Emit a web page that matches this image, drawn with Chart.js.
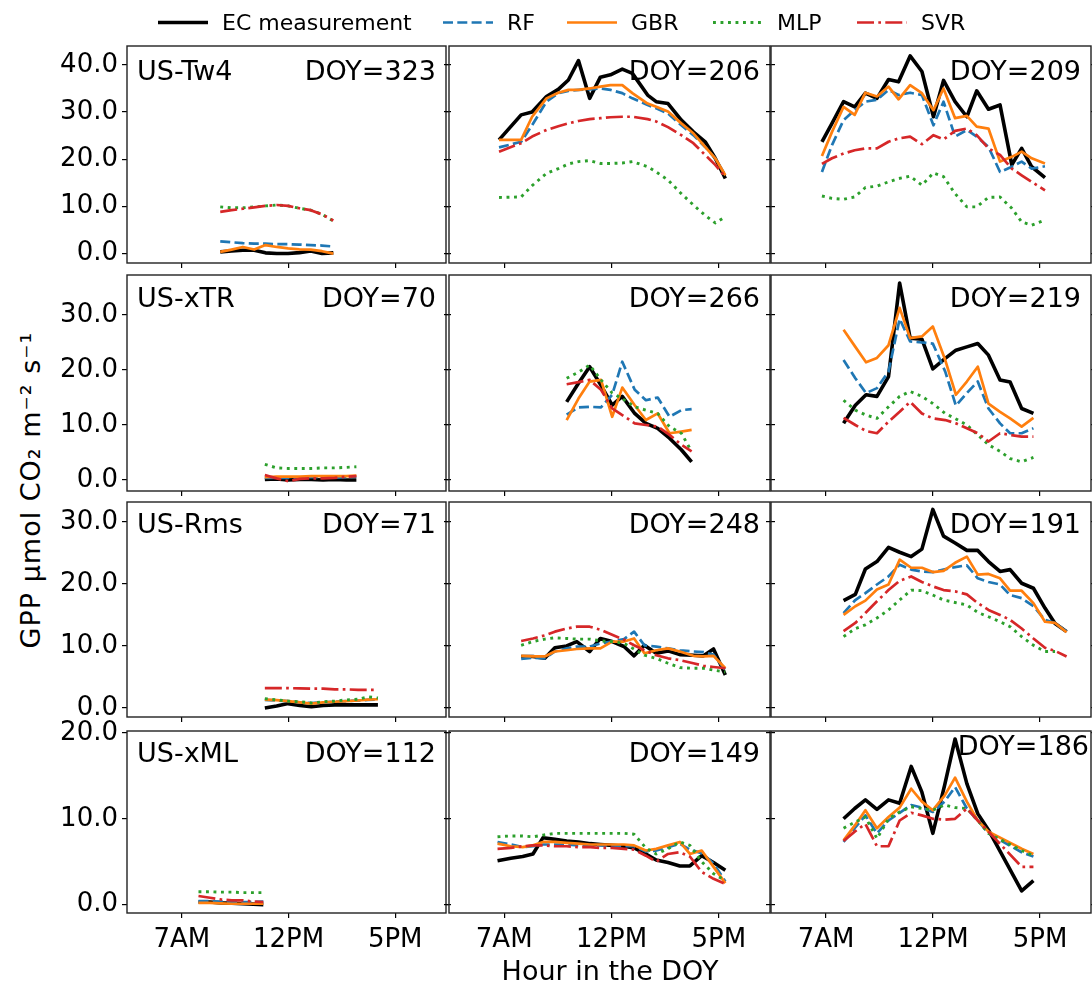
<!DOCTYPE html>
<html lang="en">
<head>
<meta charset="UTF-8">
<title>GPP diurnal comparison</title>
<script src="https://cdn.jsdelivr.net/npm/chart.js"></script>
<style>
    body {
        margin: 0;
        background: #fff;
        font-family: 'DejaVu Sans', sans-serif;
    }
    #fig {
        position: relative;
        width: 1092px;
        height: 982px;
        overflow: hidden;
        background: #fff;
    }
    #fig canvas {
        position: absolute;
    }
    .txt {
        position: absolute;
        color: #000;
        white-space: nowrap;
        line-height: 1;
    }
    .panelTxt {
        font-size: 27px;
        transform: translateY(-50%);
    }
    .legItem {
        position: absolute;
        top: 22px;
        transform: translateY(-50%);
        display: flex;
        align-items: center;
        font-size: 22px;
    }
    .legItem span {
        margin-left: 14px;
    }
</style>
</head>
<body>
<div id="fig"></div>

<script>
// ---- data (hours of day, GPP values) ----
// row 1
const h323 = [8.80, 9.33, 9.86, 10.39, 10.92, 11.45, 11.98, 12.51, 13.04, 13.57, 14.10];
const ec323 = [0.35, 0.55, 0.7, 0.7, 0.15, 0.0, 0.0, 0.2, 0.55, 0.0, 0.15];
const rf323 = [2.6, 2.4, 2.2, 2.1, 2.1, 2.0, 2.0, 1.9, 1.8, 1.7, 1.5];
const gbr323 = [0.35, 0.85, 1.4, 0.85, 1.8, 1.4, 1.1, 0.9, 0.85, 0.5, 0.0];
const mlp323 = [9.9, 9.7, 9.7, 9.9, 10.1, 10.3, 10.1, 9.6, 9.2, 8.3, 6.9];
const svr323 = [8.85, 9.2, 9.5, 9.8, 10.1, 10.3, 10.1, 9.6, 9.2, 8.3, 7.0];

const h206 = [6.76, 7.79, 8.30, 8.97, 9.52, 9.99, 10.46, 10.98, 11.48, 11.95, 12.50, 12.97, 13.68, 14.08, 14.63, 15.25, 15.81, 16.36, 16.83, 17.30];
const ec206 = [24.1, 29.4, 30.0, 33.3, 34.8, 36.8, 40.9, 32.9, 37.4, 37.9, 39.1, 38.2, 33.6, 32.2, 31.8, 28.3, 25.8, 23.7, 20.2, 15.9];
const rf206 = [22.5, 23.7, 27.2, 32.2, 34.0, 34.5, 34.7, 34.8, 35.0, 34.7, 34.0, 32.9, 31.5, 30.8, 29.7, 27.2, 25.1, 22.6, 20.2, 16.6];
const gbr206 = [24.1, 24.1, 29.0, 32.9, 34.1, 34.7, 34.7, 35.0, 35.4, 35.7, 35.7, 34.0, 31.8, 31.1, 30.1, 27.6, 25.5, 22.6, 20.2, 16.6];
const mlp206 = [11.9, 12.0, 14.4, 17.0, 18.0, 19.0, 19.5, 19.7, 19.1, 19.1, 19.2, 19.5, 18.4, 17.3, 15.6, 12.7, 10.3, 8.1, 6.5, 7.8];
const svr206 = [21.6, 23.4, 24.8, 26.2, 27.0, 27.6, 28.1, 28.5, 28.7, 28.9, 29.0, 29.0, 28.5, 28.0, 26.8, 25.1, 23.4, 20.9, 18.8, 16.3];

const h209 = [6.81, 7.28, 7.82, 8.34, 8.84, 9.38, 9.92, 10.39, 10.93, 11.48, 12.02, 12.49, 13.03, 13.58, 14.04, 14.59, 15.13, 15.68, 16.14, 16.61, 17.23];
const ec209 = [23.7, 27.6, 32.2, 31.1, 34.0, 32.9, 36.9, 36.4, 41.9, 38.6, 29.0, 36.7, 32.2, 29.0, 34.5, 30.6, 31.5, 18.8, 22.3, 18.4, 16.1];
const rf209 = [17.3, 23.0, 28.3, 30.4, 32.2, 32.6, 34.7, 33.6, 34.1, 33.6, 27.2, 32.2, 24.8, 26.2, 24.8, 22.6, 17.3, 18.4, 19.5, 18.0, 18.5];
const gbr209 = [20.7, 25.8, 31.1, 29.4, 34.1, 33.3, 35.4, 32.7, 35.7, 34.0, 30.4, 35.0, 28.7, 29.2, 26.9, 26.5, 19.5, 20.5, 21.6, 20.2, 19.1];
const mlp209 = [12.2, 11.7, 11.5, 12.0, 14.0, 14.3, 15.2, 15.9, 16.4, 14.5, 17.1, 16.3, 12.7, 9.9, 9.9, 11.9, 12.0, 9.6, 6.7, 6.0, 7.1];
const svr209 = [19.0, 20.2, 21.2, 21.9, 22.3, 22.3, 23.7, 24.4, 24.8, 23.2, 25.1, 24.2, 26.0, 26.5, 25.1, 22.3, 20.9, 18.0, 16.6, 15.2, 13.4];

// row 2
const h70 = [10.89, 11.44, 11.98, 12.53, 13.07, 13.62, 14.16, 14.71, 15.18];
const ec70 = [0.1, 0.2, 0.0, 0.1, 0.1, 0.0, 0.1, 0.0, 0.0];
const rf70 = [0.4, 0.4, 0.4, 0.5, 0.5, 0.5, 0.4, 0.5, 0.6];
const gbr70 = [0.5, 0.6, 0.6, 0.6, 0.7, 0.7, 0.7, 0.7, 0.8];
const mlp70 = [2.85, 2.2, 2.1, 2.1, 2.1, 2.2, 2.2, 2.3, 2.4];
const svr70 = [0.9, 0.3, -0.2, 0.2, 0.3, 0.3, 0.4, 0.6, 0.7];

const h266 = [9.91, 10.46, 10.98, 11.51, 12.03, 12.50, 13.08, 13.60, 14.15, 14.70, 15.25, 15.73];
const ec266 = [14.2, 17.6, 20.6, 17.2, 13.6, 15.2, 12.1, 10.3, 9.4, 7.6, 5.5, 3.3];
const rf266 = [11.9, 13.2, 13.3, 13.2, 15.5, 21.5, 16.4, 14.5, 15.0, 11.5, 12.7, 12.9];
const gbr266 = [10.9, 14.8, 17.9, 18.2, 11.5, 16.8, 13.6, 10.9, 12.1, 8.5, 8.8, 9.1];
const mlp266 = [18.5, 19.6, 20.9, 18.2, 15.8, 14.8, 13.3, 12.7, 12.1, 9.7, 8.5, 5.2];
const svr266 = [17.4, 17.8, 18.2, 16.4, 13.0, 11.8, 10.3, 10.0, 9.7, 8.2, 6.4, 5.2];

const h219 = [7.82, 8.37, 8.87, 9.38, 9.92, 10.44, 10.93, 11.48, 11.99, 12.57, 13.07, 13.58, 14.09, 14.59, 15.13, 15.60, 16.14, 16.69];
const ec219 = [10.3, 13.6, 15.5, 15.2, 18.8, 35.8, 25.8, 25.6, 20.2, 22.1, 23.6, 24.2, 24.8, 22.7, 18.2, 17.8, 13.0, 12.1];
const rf219 = [21.8, 18.5, 15.8, 16.7, 19.7, 29.3, 25.2, 25.0, 24.8, 19.7, 13.5, 15.8, 17.9, 13.0, 10.3, 8.5, 8.5, 9.4];
const gbr219 = [27.3, 24.2, 21.4, 22.2, 24.5, 31.3, 25.8, 26.1, 27.9, 21.8, 15.5, 17.9, 20.6, 13.9, 12.4, 11.2, 9.7, 11.3];
const mlp219 = [14.5, 12.7, 11.8, 11.2, 13.3, 15.2, 16.1, 15.2, 13.9, 12.1, 11.1, 10.0, 8.2, 6.4, 5.2, 3.9, 3.3, 4.1];
const svr219 = [11.3, 10.0, 8.9, 8.5, 10.6, 12.4, 14.2, 12.1, 11.2, 10.9, 10.3, 9.4, 8.5, 7.0, 8.5, 8.2, 7.9, 7.9];

// row 3
const h71 = [10.89, 11.44, 11.98, 12.53, 13.07, 13.62, 14.17, 14.71, 15.26, 15.72, 16.19];
const ec71 = [0.0, 0.3, 0.7, 0.4, 0.2, 0.4, 0.5, 0.5, 0.5, 0.5, 0.5];
const rf71 = [1.3, 1.2, 1.1, 0.9, 0.8, 0.9, 1.0, 1.1, 1.2, 1.3, 1.35];
const gbr71 = [1.35, 1.25, 1.1, 0.9, 0.7, 0.9, 1.0, 1.1, 1.2, 1.35, 1.4];
const mlp71 = [1.5, 1.3, 1.1, 1.0, 0.8, 1.0, 1.1, 1.3, 1.4, 1.8, 1.6];
const svr71 = [3.2, 3.2, 3.2, 3.15, 3.1, 3.1, 3.0, 3.0, 2.9, 2.9, 2.9];

const h248 = [7.79, 8.34, 8.89, 9.36, 9.91, 10.38, 10.98, 11.48, 12.03, 12.58, 13.05, 13.53, 14.08, 14.63, 15.18, 15.81, 16.28, 16.75, 17.30];
const ec248 = [8.3, 8.3, 8.0, 9.7, 10.0, 10.7, 9.1, 11.2, 10.7, 9.9, 8.4, 10.1, 8.8, 9.2, 8.6, 8.5, 8.4, 9.5, 5.3];
const rf248 = [7.9, 8.1, 8.0, 9.1, 9.6, 9.9, 9.9, 10.4, 10.7, 11.1, 12.3, 10.1, 9.9, 9.6, 9.3, 9.1, 9.0, 8.6, 6.1];
const gbr248 = [8.4, 8.3, 8.3, 9.1, 9.3, 9.5, 9.6, 9.6, 10.7, 10.7, 11.2, 8.8, 9.3, 9.6, 9.1, 8.4, 8.3, 8.4, 6.4];
const mlp248 = [10.1, 10.7, 11.1, 11.3, 11.2, 11.1, 11.1, 10.8, 10.7, 10.4, 9.5, 8.5, 8.0, 7.2, 6.5, 6.4, 6.4, 6.1, 5.8];
const svr248 = [10.8, 11.2, 11.7, 12.3, 12.8, 13.1, 13.1, 12.6, 11.8, 11.0, 10.1, 9.3, 8.5, 8.0, 7.7, 7.2, 6.8, 6.6, 6.4];

const h191 = [7.82, 8.37, 8.84, 9.38, 9.92, 10.44, 10.98, 11.48, 11.99, 12.49, 13.03, 13.58, 14.09, 14.59, 15.13, 15.60, 16.14, 16.69, 17.23, 17.70, 18.24];
const ec191 = [17.3, 18.3, 22.4, 23.6, 25.9, 25.1, 24.4, 25.6, 32.0, 27.7, 26.6, 25.4, 25.4, 23.6, 22.0, 22.3, 20.1, 19.3, 16.1, 13.6, 12.3];
const rf191 = [15.3, 17.4, 18.5, 19.9, 21.2, 23.1, 22.3, 22.0, 21.9, 22.3, 22.7, 23.0, 20.9, 20.3, 19.9, 18.2, 17.7, 16.4, 14.2, 13.7, 12.3];
const gbr191 = [15.0, 16.4, 17.3, 19.1, 19.9, 23.9, 22.6, 22.6, 21.9, 22.1, 23.4, 24.4, 21.5, 21.6, 20.9, 18.9, 18.9, 16.9, 13.9, 13.7, 12.2];
const mlp191 = [11.5, 12.8, 13.4, 14.5, 15.8, 17.4, 19.0, 18.9, 18.2, 17.4, 17.0, 16.6, 15.4, 14.7, 13.9, 13.1, 11.5, 10.1, 9.1, 9.1, null];
const svr191 = [12.4, 13.7, 15.3, 17.2, 19.0, 20.5, 21.2, 20.3, 19.6, 19.0, 18.8, 18.3, 16.9, 15.8, 15.0, 14.2, 12.8, 11.2, 9.7, 9.2, 8.3];

// row 4
const h112 = [7.78, 8.32, 8.82, 9.34, 9.85, 10.35, 10.82];
const ec112 = [0.3, 0.3, 0.2, 0.15, 0.1, 0.05, 0.0];
const rf112 = [0.4, 0.4, 0.35, 0.3, 0.3, 0.3, 0.35];
const gbr112 = [0.2, 0.2, 0.15, 0.1, 0.1, 0.1, 0.1];
const mlp112 = [1.5, 1.5, 1.45, 1.45, 1.4, 1.4, 1.4];
const svr112 = [1.0, 0.8, 0.6, 0.5, 0.5, 0.35, 0.3];

const h149 = [6.69, 7.31, 7.86, 8.34, 8.81, 9.36, 9.91, 10.46, 11.01, 11.48, 12.03, 12.58, 13.05, 13.60, 14.08, 14.63, 15.18, 15.65, 16.20, 16.75, 17.30];
const ec149 = [5.1, 5.4, 5.6, 5.9, 7.8, 7.6, 7.4, 7.3, 7.1, 7.0, 6.9, 6.8, 6.6, 5.9, 5.2, 4.9, 4.5, 4.5, 5.7, 4.9, 4.0];
const rf149 = [7.3, 7.0, 6.7, 6.8, 7.0, 7.0, 7.0, 6.9, 6.9, 6.9, 6.9, 6.8, 6.8, 6.2, 6.3, 6.7, 7.1, 6.4, 6.0, 4.8, 2.7];
const gbr149 = [7.1, 6.8, 6.7, 6.9, 7.3, 7.3, 7.2, 7.1, 7.0, 7.0, 7.0, 7.0, 6.9, 6.3, 6.5, 6.9, 7.3, 5.9, 6.3, 4.4, 2.5];
const mlp149 = [7.9, 8.0, 8.0, 7.9, 8.1, 8.3, 8.3, 8.3, 8.3, 8.3, 8.3, 8.3, 8.2, 6.6, 5.9, 6.5, 7.3, 6.9, 5.0, 3.6, 2.8];
const svr149 = [6.5, 6.6, 6.8, 6.9, 6.9, 6.8, 6.8, 6.7, 6.7, 6.6, 6.6, 6.5, 6.4, 5.7, 5.0, 5.9, 6.1, 5.6, 3.8, 3.0, 2.4];

const h186 = [7.82, 8.34, 8.84, 9.38, 9.92, 10.44, 10.98, 11.48, 11.99, 12.54, 13.03, 13.58, 14.09, 14.59, 16.14, 16.69];
const ec186 = [10.0, 11.2, 12.2, 11.1, 12.2, 11.8, 16.1, 13.1, 8.3, 13.9, 19.3, 14.1, 10.6, 8.7, 1.6, 2.8];
const rf186 = [7.3, 8.9, 10.4, 8.3, 9.8, 10.7, 11.6, 11.3, 10.8, 12.0, 13.7, 11.2, 9.8, 8.3, 6.1, 5.6];
const gbr186 = [7.5, 9.2, 11.0, 8.9, 10.2, 11.3, 13.5, 12.0, 11.0, 12.7, 14.8, 12.0, 9.8, 8.5, 6.5, 5.9];
const mlp186 = [8.9, 9.6, 10.2, 7.7, 10.0, 10.8, 11.4, 11.2, 11.0, 11.6, 11.3, 11.2, 9.8, 8.3, 6.3, 5.7];
const svr186 = [7.4, 8.5, 9.4, 6.8, 6.8, 9.8, 10.7, 10.4, 10.0, 9.9, 10.0, 11.2, 9.8, 8.5, 4.4, 4.4];

// axis ticks
const xTickHours = [7, 12, 17];
const xTickLabels = ['7AM', '12PM', '5PM'];
const xRange = [4.43, 19.38];
const rowYTicks = [[0, 10, 20, 30, 40], [0, 10, 20, 30], [0, 10, 20, 30], [0, 10, 20]];
const rowYRange = [[-2.0, 44.0], [-2.0, 37.27], [-1.46, 33.2], [-0.98, 20.23]];

// panels, row by row
const panels = [
    {site: 'US-Tw4', doy: 323, h: h323, ec: ec323, rf: rf323, gbr: gbr323, mlp: mlp323, svr: svr323},
    {site: '', doy: 206, h: h206, ec: ec206, rf: rf206, gbr: gbr206, mlp: mlp206, svr: svr206},
    {site: '', doy: 209, h: h209, ec: ec209, rf: rf209, gbr: gbr209, mlp: mlp209, svr: svr209},
    {site: 'US-xTR', doy: 70, h: h70, ec: ec70, rf: rf70, gbr: gbr70, mlp: mlp70, svr: svr70},
    {site: '', doy: 266, h: h266, ec: ec266, rf: rf266, gbr: gbr266, mlp: mlp266, svr: svr266},
    {site: '', doy: 219, h: h219, ec: ec219, rf: rf219, gbr: gbr219, mlp: mlp219, svr: svr219},
    {site: 'US-Rms', doy: 71, h: h71, ec: ec71, rf: rf71, gbr: gbr71, mlp: mlp71, svr: svr71},
    {site: '', doy: 248, h: h248, ec: ec248, rf: rf248, gbr: gbr248, mlp: mlp248, svr: svr248},
    {site: '', doy: 191, h: h191, ec: ec191, rf: rf191, gbr: gbr191, mlp: mlp191, svr: svr191},
    {site: 'US-xML', doy: 112, h: h112, ec: ec112, rf: rf112, gbr: gbr112, mlp: mlp112, svr: svr112},
    {site: '', doy: 149, h: h149, ec: ec149, rf: rf149, gbr: gbr149, mlp: mlp149, svr: svr149},
    {site: '', doy: 186, h: h186, ec: ec186, rf: rf186, gbr: gbr186, mlp: mlp186, svr: svr186}
];

// series look (matplotlib tab10 colours)
const seriesKeys = ['ec', 'rf', 'gbr', 'mlp', 'svr'];
const seriesStyle = {
    ec:  {label: 'EC measurement', color: '#000000', width: 3.6, dash: [], order: 5},
    rf:  {label: 'RF',  color: '#1f77b4', width: 2.7, dash: [10, 4.3], order: 4},
    gbr: {label: 'GBR', color: '#ff7f0e', width: 2.7, dash: [], order: 3},
    mlp: {label: 'MLP', color: '#2ca02c', width: 2.9, dash: [2.9, 4.6], order: 2},
    svr: {label: 'SVR', color: '#d62728', width: 2.7, dash: [17, 4.3, 2.7, 4.3], order: 1}
};

// figure geometry
const colLeft = [127, 449, 771];
const colRight = [446, 770, 1091];
const rowTop = [46, 275, 502, 731];
const rowBottom = [263, 491, 717, 913];
const rowTextOffset = [24, 22, 21, 21];
const padL = 80, padR = 12, padT = 24, padB = 62;
const FONT = "'DejaVu Sans', sans-serif";

const fig = document.getElementById('fig');

// plot frame (all four spines)
const framePlugin = {
    id: 'frame',
    afterDraw(chart) {
        const a = chart.chartArea;
        const ctx = chart.ctx;
        ctx.save();
        ctx.strokeStyle = '#222';
        ctx.lineWidth = 1.4;
        ctx.strokeRect(a.left, a.top, a.right - a.left, a.bottom - a.top);
        ctx.restore();
    }
};

function addText(text, cls, css) {
    const d = document.createElement('div');
    d.className = 'txt ' + cls;
    d.textContent = text;
    Object.assign(d.style, css);
    fig.appendChild(d);
    return d;
}

function buildPanel(p, row, col) {
    const w = colRight[col] - colLeft[col];
    const h = rowBottom[row] - rowTop[row];
    const cv = document.createElement('canvas');
    cv.width = w + padL + padR;
    cv.height = h + padT + padB;
    cv.style.left = (colLeft[col] - padL) + 'px';
    cv.style.top = (rowTop[row] - padT) + 'px';
    fig.appendChild(cv);

    const datasets = seriesKeys.map(k => {
        const s = seriesStyle[k];
        return {
            label: s.label,
            data: p.h.map((x, i) => ({x: x, y: p[k][i]})),
            borderColor: s.color,
            borderWidth: s.width,
            borderDash: s.dash,
            borderCapStyle: 'butt',
            borderJoinStyle: 'round',
            pointRadius: 0,
            tension: 0,
            fill: false,
            spanGaps: true,
            order: s.order
        };
    });

    const yTicks = rowYTicks[row];
    const tickGrid = {drawOnChartArea: false, drawTicks: true, tickLength: 5, color: '#000', lineWidth: 1.2};

    new Chart(cv.getContext('2d'), {
        type: 'line',
        data: {datasets: datasets},
        options: {
            responsive: false,
            animation: false,
            devicePixelRatio: 1,
            layout: {padding: {top: padT, left: 0, right: 0, bottom: 0}},
            plugins: {legend: {display: false}, tooltip: {enabled: false}},
            scales: {
                x: {
                    type: 'linear',
                    position: 'bottom',
                    min: xRange[0],
                    max: xRange[1],
                    afterBuildTicks: s => { s.ticks = xTickHours.map(v => ({value: v})); },
                    afterFit: s => { s.height = padB; },
                    grid: tickGrid,
                    border: {display: false},
                    ticks: {
                        display: row === 3,
                        autoSkip: false,
                        maxRotation: 0,
                        padding: 7,
                        color: '#000',
                        font: {family: FONT, size: 26},
                        callback: (v, i) => xTickLabels[i]
                    }
                },
                y: {
                    type: 'linear',
                    position: 'left',
                    min: rowYRange[row][0],
                    max: rowYRange[row][1],
                    afterBuildTicks: s => { s.ticks = yTicks.map(v => ({value: v})); },
                    afterFit: s => { s.width = padL; },
                    grid: tickGrid,
                    border: {display: false},
                    ticks: {
                        display: col === 0,
                        autoSkip: false,
                        padding: 4,
                        color: '#000',
                        font: {family: FONT, size: 26},
                        callback: v => Number(v).toFixed(1)
                    }
                },
                y2: {
                    type: 'linear',
                    position: 'right',
                    min: rowYRange[row][0],
                    max: rowYRange[row][1],
                    afterBuildTicks: s => { s.ticks = yTicks.map(v => ({value: v})); },
                    afterFit: s => { s.width = padR; },
                    grid: tickGrid,
                    border: {display: false},
                    ticks: {display: false}
                }
            }
        },
        plugins: [framePlugin]
    });

    // panel annotations
    let cy = rowTop[row] + rowTextOffset[row];
    let inset = 10;
    if (p.doy === 186) { cy = rowTop[row] + 14; inset = 2; }
    if (p.site) {
        addText(p.site, 'panelTxt', {left: (colLeft[col] + 10) + 'px', top: cy + 'px'});
    }
    addText('DOY=' + p.doy, 'panelTxt', {right: (1092 - colRight[col] + inset) + 'px', top: cy + 'px'});
}

panels.forEach((p, i) => buildPanel(p, Math.floor(i / 3), i % 3));

// shared axis titles
addText('GPP  µmol  CO\u2082  m\u207B\u00B2  s\u207B\u00B9', '', {
    left: '30px', top: '490px', fontSize: '27px', letterSpacing: '1px',
    transform: 'translate(-50%, -50%) rotate(-90deg)'
});
addText('Hour in the DOY', '', {
    left: '610px', top: '970px', fontSize: '27px',
    transform: 'translate(-50%, -50%)'
});

// legend across the top
const legendLeft = [158, 443, 567, 713, 857];
seriesKeys.forEach((k, i) => {
    const s = seriesStyle[k];
    const item = document.createElement('div');
    item.className = 'legItem';
    item.style.left = legendLeft[i] + 'px';
    const dash = s.dash.length ? s.dash.join(' ') : 'none';
    item.innerHTML =
        '<svg width="50" height="10"><line x1="0" y1="5" x2="50" y2="5" stroke="' + s.color +
        '" stroke-width="' + s.width + '" stroke-dasharray="' + dash + '"/></svg><span>' + s.label + '</span>';
    fig.appendChild(item);
});
</script>
</body>
</html>
